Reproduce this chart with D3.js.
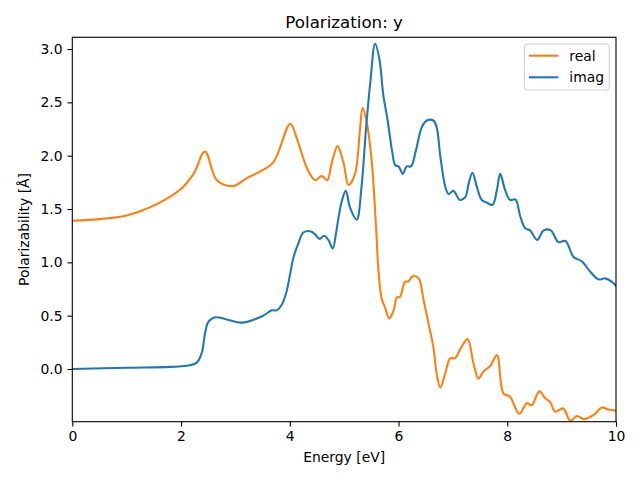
<!DOCTYPE html>
<html><head><meta charset="utf-8">
<script src="https://cdn.jsdelivr.net/npm/d3@7"></script>
<style>body{margin:0;background:#fff}svg{display:block}text{font-family:"DejaVu Sans",sans-serif}</style>
</head><body>
<script>
const realE = [0,0.5,1.0,1.3,1.61,1.98,2.23,2.44,2.66,2.96,3.21,3.45,3.70,4.01,4.13,4.28,4.37,4.47,4.59,4.69,4.77,4.88,4.99,5.08,5.20,5.29,5.34,5.42,5.51,5.59,5.63,5.69,5.75,5.83,5.91,5.97,6.03,6.12,6.18,6.26,6.37,6.46,6.55,6.64,6.70,6.77,6.86,6.95,7.04,7.13,7.27,7.38,7.47,7.56,7.69,7.81,7.93,8.05,8.22,8.36,8.45,8.59,8.70,8.79,8.88,9.03,9.16,9.28,9.41,9.59,9.74,9.86,10.0];
const realV = [1.39,1.405,1.44,1.49,1.56,1.68,1.83,2.04,1.77,1.716,1.79,1.85,1.94,2.30,2.16,1.93,1.83,1.77,1.81,1.77,1.93,2.09,1.93,1.725,1.83,2.24,2.45,2.30,1.93,1.30,0.93,0.66,0.58,0.475,0.55,0.67,0.68,0.82,0.82,0.87,0.85,0.65,0.43,0.21,-0.04,-0.175,-0.04,0.10,0.10,0.18,0.28,0.05,-0.09,-0.025,0.03,0.13,-0.23,-0.26,-0.42,-0.32,-0.34,-0.21,-0.275,-0.31,-0.40,-0.37,-0.485,-0.44,-0.47,-0.43,-0.36,-0.38,-0.39];
const imagE = [0,1.0,1.80,2.10,2.29,2.38,2.44,2.50,2.63,2.84,3.12,3.51,3.67,3.76,3.85,3.94,4.01,4.07,4.16,4.25,4.39,4.47,4.55,4.63,4.71,4.79,4.85,4.89,4.96,5.03,5.11,5.23,5.32,5.40,5.48,5.57,5.65,5.72,5.80,5.88,5.94,6.00,6.08,6.15,6.23,6.32,6.43,6.52,6.64,6.70,6.77,6.86,6.92,7.01,7.13,7.23,7.29,7.36,7.44,7.53,7.62,7.73,7.81,7.87,7.96,8.05,8.15,8.24,8.33,8.42,8.55,8.67,8.80,8.94,9.07,9.22,9.37,9.53,9.68,9.80,9.92,10.0];
const imagV = [0.0,0.012,0.02,0.03,0.06,0.15,0.33,0.44,0.485,0.465,0.435,0.50,0.55,0.55,0.60,0.725,0.90,1.05,1.18,1.28,1.29,1.26,1.22,1.25,1.21,1.13,1.27,1.40,1.58,1.67,1.51,1.40,1.71,2.24,2.68,3.05,2.90,2.57,2.33,2.05,1.91,1.90,1.83,1.90,1.90,2.05,2.27,2.33,2.33,2.27,1.99,1.71,1.64,1.67,1.585,1.615,1.74,1.84,1.71,1.585,1.56,1.54,1.68,1.83,1.68,1.585,1.59,1.43,1.32,1.30,1.21,1.30,1.30,1.19,1.20,1.05,1.01,0.91,0.84,0.85,0.82,0.78];
const xTicks = [0,2,4,6,8,10];
const yTicks = [0.0,0.5,1.0,1.5,2.0,2.5,3.0];
const seriesNames = ["real","imag"];
const colors = ["#ff7f0e","#1f77b4"];

const W=640,H=480, L=72.3, R=616, T=37.3, B=421.7;
const svg = d3.select("body").append("svg").attr("width",W).attr("height",H);
const x = d3.scaleLinear().domain([0,10]).range([L,R]);
const y = d3.scaleLinear().domain([-0.494,3.11]).range([B,T]);

svg.append("defs").append("clipPath").attr("id","c").append("rect").attr("x",L).attr("y",T).attr("width",R-L).attr("height",B-T);

const line = d3.line().x(d=>x(d[0])).y(d=>y(d[1])).curve(d3.curveCatmullRom.alpha(0.5));
const data = [realE.map((e,i)=>[e,realV[i]]), imagE.map((e,i)=>[e,imagV[i]])];
const g = svg.append("g").attr("clip-path","url(#c)");
data.forEach((d,i)=>g.append("path").datum(d).attr("d",line).attr("fill","none").attr("stroke",colors[i]).attr("stroke-width",2.08).attr("stroke-linejoin","round").attr("stroke-linecap","square"));

const xa = svg.append("g").attr("transform",`translate(0,${B})`).call(d3.axisBottom(x).tickValues(xTicks).tickFormat(d3.format("d")).tickSize(4.86).tickPadding(4.86));
const ya = svg.append("g").attr("transform",`translate(${L},0)`).call(d3.axisLeft(y).tickValues(yTicks).tickFormat(d3.format(".1f")).tickSize(4.86).tickPadding(4.86));
[xa,ya].forEach(a=>{a.select(".domain").remove();a.selectAll("text").attr("font-size","13.9px").attr("fill","#000").style("font-family","DejaVu Sans");a.selectAll("line").attr("stroke","#000").attr("stroke-width",1.1);});

svg.append("rect").attr("x",L).attr("y",T).attr("width",R-L).attr("height",B-T).attr("fill","none").attr("stroke","#000").attr("stroke-width",1.1);

svg.append("text").attr("x",(L+R)/2).attr("y",T-9).attr("text-anchor","middle").attr("font-size","16.67px").text("Polarization: y");
svg.append("text").attr("x",(L+R)/2).attr("y",462).attr("text-anchor","middle").attr("font-size","13.9px").text("Energy [eV]");
svg.append("text").attr("transform",`translate(29,${(T+B)/2}) rotate(-90)`).attr("text-anchor","middle").attr("font-size","13.9px").text("Polarizability [Å]");

const lg = svg.append("g");
lg.append("rect").attr("x",524.3).attr("y",44).attr("width",85).attr("height",46).attr("rx",3).attr("fill","#fff").attr("fill-opacity",0.8).attr("stroke","#ccc").attr("stroke-width",1);
seriesNames.forEach((n,i)=>{
  const yy = 55.7 + i*21.6;
  lg.append("line").attr("x1",529).attr("x2",558.3).attr("y1",yy).attr("y2",yy).attr("stroke",colors[i]).attr("stroke-width",2.08);
  lg.append("text").attr("x",569.3).attr("y",yy+4.8).attr("font-size","13.9px").text(n);
});
</script>
</body></html>
